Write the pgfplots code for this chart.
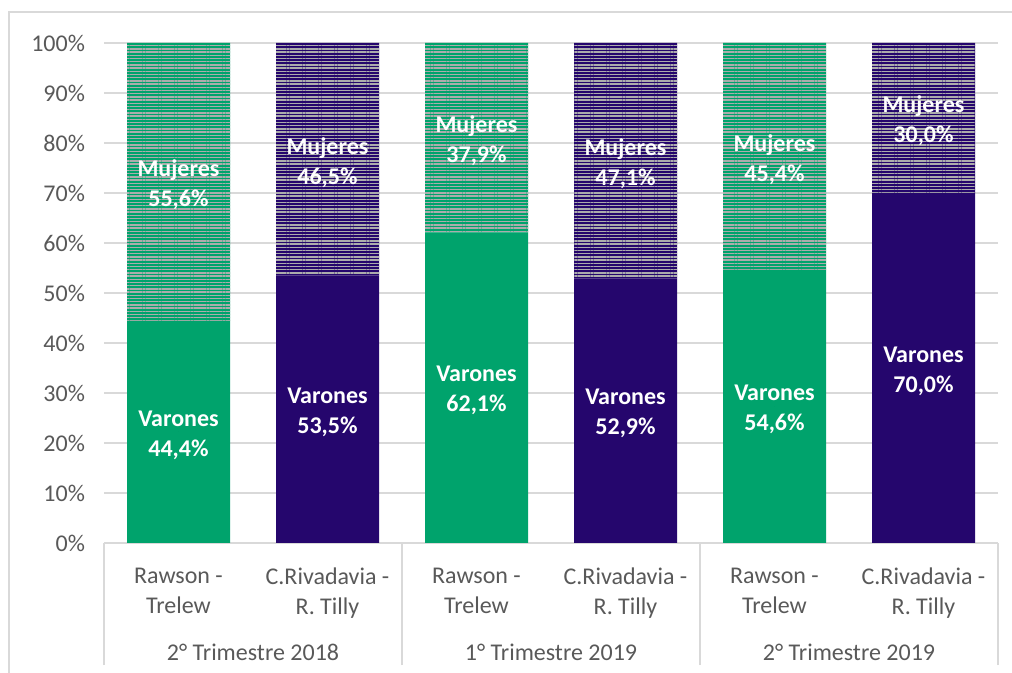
\documentclass[border=0pt]{standalone}
\usepackage{fontspec}
\setmainfont{Carlito}
\usepackage{pgfplots}
\pgfplotsset{compat=1.18}
\usepackage{pgfplotstable}
\usetikzlibrary{patterns.meta}
\definecolor{verde}{RGB}{0,163,108}
\definecolor{morado}{RGB}{37,6,109}
\definecolor{gridgray}{RGB}{217,217,217}
\definecolor{txtgray}{RGB}{89,89,89}
\definecolor{patgray}{RGB}{172,172,172}
\pgfplotsset{/pgf/number format/assume math mode=true}

\pgfplotstableread{
x gv pv gm pm v m
0 44.4 0 55.6 0 44.4 55.6
1 0 53.5 0 46.5 53.5 46.5
2 62.1 0 37.9 0 62.1 37.9
3 0 52.9 0 47.1 52.9 47.1
4 54.6 0 45.4 0 54.6 45.4
5 0 70.0 0 30.0 70.0 30.0
}\data

\pgfplotsset{base/.style={scale only axis, width=447pt, height=250pt,
  xmin=-0.5, xmax=5.5, ymin=0, ymax=100, at={(0,0)}, anchor=south west}}
\tikzset{pat/.style={postaction={pattern={Lines[angle=0,distance=1.6pt,line width=0.7pt]}, pattern color=patgray}}}

\begin{document}
\begin{tikzpicture}
\useasboundingbox (-52pt,-65pt) rectangle (454pt,271.5pt);
\draw[gridgray, line width=0.9pt] (-47.5pt,-70pt) -- (-47.5pt,265.5pt) -- (460pt,265.5pt);
\begin{axis}[base, ybar stacked, bar width=51.5pt,
  axis x line=bottom, axis y line=left,
  x axis line style={draw=gridgray, line width=0.9pt, -},
  y axis line style={draw=none},
  ymajorgrids, grid style={gridgray, line width=0.9pt},
  ytick={0,10,...,100}, yticklabel={\pgfmathprintnumber{\tick}\%},
  xtick={0,...,5},
  xticklabels={{Rawson -\\Trelew},{C.Rivadavia -\\R. Tilly},{Rawson -\\Trelew},{C.Rivadavia -\\R. Tilly},{Rawson -\\Trelew},{C.Rivadavia -\\R. Tilly}},
  major tick length=0pt,
  tick label style={font=\fontsize{12}{15}\selectfont, text=txtgray},
  xticklabel style={align=center, anchor=north, yshift=-9pt},
  yticklabel style={xshift=-6pt},
  extra x ticks={-0.5,1.5,3.5,5.5}, extra x tick labels={},
  extra x tick style={major tick length=61pt, tick align=outside,
     tick style={draw=gridgray, line width=0.9pt}, grid=none},
  clip=false]
\addplot[fill=verde, draw=none] table[x=x,y=gv]{\data};
\addplot[fill=morado, draw=none] table[x=x,y=pv]{\data};
\addplot[fill=verde, draw=none, pat] table[x=x,y=gm]{\data};
\addplot[fill=morado, draw=none, pat] table[x=x,y=pm]{\data};
\node[text=txtgray, font=\fontsize{12}{15}\selectfont] at (axis cs:0.5,0) [yshift=-54.5pt] {2° Trimestre 2018};
\node[text=txtgray, font=\fontsize{12}{15}\selectfont] at (axis cs:2.5,0) [yshift=-54.5pt] {1° Trimestre 2019};
\node[text=txtgray, font=\fontsize{12}{15}\selectfont] at (axis cs:4.5,0) [yshift=-54.5pt] {2° Trimestre 2019};
\end{axis}
\begin{axis}[base, hide axis, clip=false,
  every node near coord/.append style={anchor=center, align=center, text=white, yshift=-1.5pt, font=\bfseries\fontsize{12}{15}\selectfont}]
\addplot[only marks, mark=*, mark size=0pt, draw=none, fill=none, point meta=explicit,
  nodes near coords={Varones\\\pgfmathprintnumber[fixed,fixed zerofill,precision=1,use comma]{\pgfplotspointmeta}\%}]
  table[x=x, y expr=\thisrow{v}/2, meta=v]{\data};
\addplot[only marks, mark=*, mark size=0pt, draw=none, fill=none, point meta=explicit,
  nodes near coords={Mujeres\\\pgfmathprintnumber[fixed,fixed zerofill,precision=1,use comma]{\pgfplotspointmeta}\%}]
  table[x=x, y expr=\thisrow{v}+\thisrow{m}/2, meta=m]{\data};
\end{axis}
\end{tikzpicture}
\end{document}
